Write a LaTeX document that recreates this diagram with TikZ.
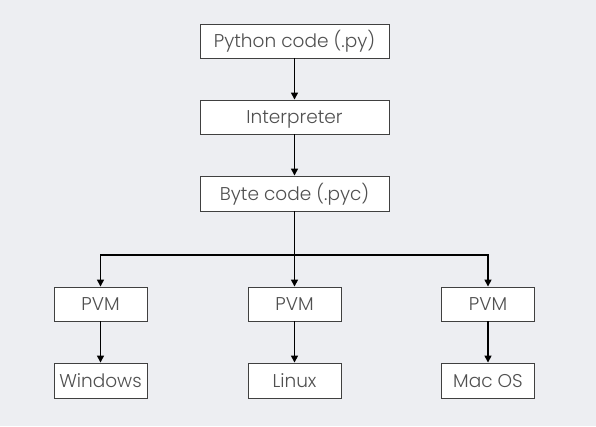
\documentclass[tikz,border=0pt]{standalone}
\usepackage{fontspec}
\setmainfont{Poppins}[UprightFont=* Light]
\usetikzlibrary{arrows.meta}
\definecolor{bg}{HTML}{EDEEF2}
\definecolor{txt}{HTML}{505050}
\definecolor{brd}{HTML}{404040}
\begin{document}
\begin{tikzpicture}[x=1pt,y=-1pt,
  wide/.style={draw=brd,fill=white,line width=0.9pt,minimum width=189pt,minimum height=34pt,inner sep=0pt,text=txt,text height=17.5pt,text depth=4pt,font=\fontsize{18.5}{22}\selectfont},
  small/.style={wide,minimum width=93pt},
  arr/.style={line width=1.4pt,-{Triangle[length=7pt,width=7pt]}}]
\fill[bg] (0,0) rectangle (596,426);
\node[wide] (py) at (294.5,41) {Python code (.py)};
\node[wide] (in) at (294.5,117) {Interpreter};
\node[wide,minimum height=35pt] (bc) at (294.5,193.5) {Byte code (.pyc)};
\node[small] (p1) at (100.5,304) {PVM};
\node[small] (p2) at (294.5,304) {PVM};
\node[small] (p3) at (488,304) {PVM};
\node[small,minimum height=35pt] (o1) at (100.5,380.5) {Windows};
\node[small,minimum height=35pt] (o2) at (294.5,380.5) {Linux};
\node[small,minimum height=35pt] (o3) at (488,380.5) {Mac OS};
\coordinate (j) at (294.5,255);
\draw[arr] (py) -- (in);
\draw[arr] (in) -- (bc);
\draw[line width=1.4pt] (bc.south) -- (j);
\draw[arr] (j) -- (p2);
\draw[arr] (j) -| (p1);
\draw[arr] (j) -| (p3);
\draw[arr] (p1) -- (o1);
\draw[arr] (p2) -- (o2);
\draw[arr] (p3) -- (o3);
\end{tikzpicture}
\end{document}
